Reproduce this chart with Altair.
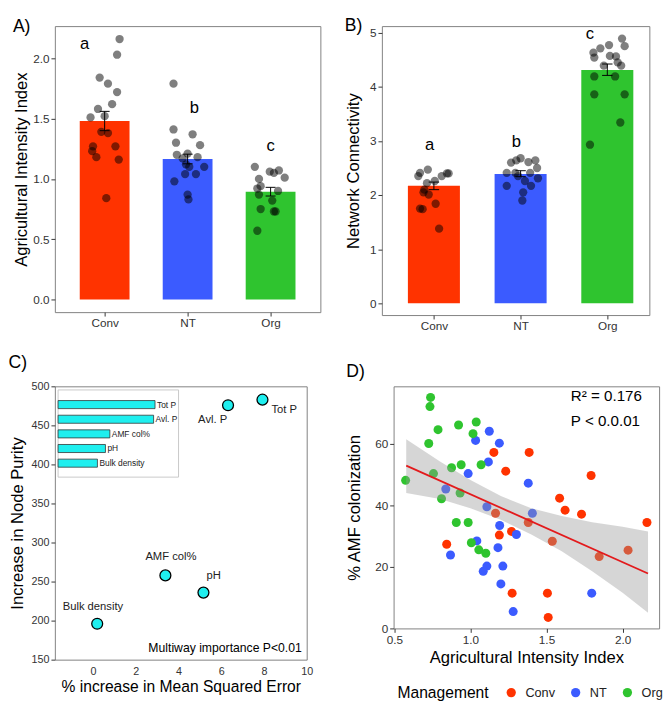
import altair as alt
import pandas as pd

FONT = "Liberation Sans"

CATS = ["Conv", "NT", "Org"]
CAT_POS = [1, 2, 3]
CAT_COLORS = ["#FF3300", "#3B5BFF", "#2FC42F"]

# ---------------- Panel A : Agricultural Intensity Index ----------------
A_MEAN = [1.48, 1.165, 0.893]
A_SE_LO = [1.40, 1.125, 0.858]
A_SE_HI = [1.56, 1.205, 0.930]
A_LETTERS = ["a", "b", "c"]
A_LETTER_X = [0.76, 2.08, 3.00]
A_LETTER_Y = [2.12, 1.59, 1.27]
A_CONV_X = [1.18, 1.15, 0.94, 1.04, 1.15, 1.09, 0.92, 0.83, 1.00, 0.96, 1.04, 0.86, 1.13, 0.85, 0.90, 1.17, 1.02]
A_CONV_Y = [2.16, 2.03, 1.84, 1.79, 1.72, 1.62, 1.58, 1.51, 1.52, 1.39, 1.38, 1.27, 1.27, 1.23, 1.18, 1.16, 0.84]
A_NT_X = [1.83, 1.83, 2.06, 1.86, 2.15, 2.00, 1.87, 2.12, 1.94, 1.98, 2.20, 2.02, 1.97, 2.10, 1.84, 2.00, 2.01]
A_NT_Y = [1.79, 1.41, 1.37, 1.30, 1.28, 1.21, 1.20, 1.18, 1.17, 1.12, 1.10, 1.10, 1.04, 1.04, 0.98, 0.87, 0.83]
A_ORG_X = [2.81, 2.99, 3.10, 3.17, 2.86, 3.04, 2.88, 2.84, 3.09, 2.86, 3.02, 2.88, 3.04, 3.06, 2.84]
A_ORG_Y = [1.10, 1.06, 1.07, 1.01, 1.00, 1.05, 0.94, 0.92, 0.90, 0.87, 0.82, 0.75, 0.73, 0.73, 0.57]

# ---------------- Panel B : Network Connectivity ----------------
B_MEAN = [2.17, 2.39, 4.31]
B_SE_LO = [2.10, 2.34, 4.21]
B_SE_HI = [2.24, 2.45, 4.42]
B_LETTERS = ["a", "b", "c"]
B_LETTER_X = [0.95, 1.95, 2.80]
B_LETTER_Y = [2.93, 2.98, 4.97]
B_CONV_X = [0.82, 0.93, 0.84, 1.09, 1.15, 1.17, 0.92, 1.01, 0.88, 0.94, 0.89, 1.02, 0.84, 0.87, 1.06]
B_CONV_Y = [2.35, 2.47, 2.41, 2.35, 2.40, 2.40, 2.22, 2.26, 2.05, 2.01, 2.10, 1.84, 1.75, 1.74, 1.38]
B_NT_X = [2.00, 1.89, 2.17, 2.09, 1.95, 2.19, 1.84, 1.94, 2.11, 1.97, 2.20, 1.84, 2.05, 2.12, 2.03, 2.02]
B_NT_Y = [2.68, 2.60, 2.64, 2.61, 2.64, 2.50, 2.41, 2.41, 2.41, 2.35, 2.31, 2.17, 2.26, 2.17, 2.05, 1.90]
B_ORG_X = [3.17, 3.20, 2.92, 3.02, 2.84, 3.03, 3.10, 2.85, 3.12, 2.96, 3.16, 2.85, 3.09, 2.85, 3.20, 3.15, 2.80]
B_ORG_Y = [4.89, 4.75, 4.71, 4.77, 4.63, 4.57, 4.56, 4.54, 4.45, 4.39, 4.39, 4.19, 4.19, 3.86, 3.86, 3.34, 2.93]

# ---------------- Panel C : random forest importance ----------------
C_VARS = ["Tot P", "Avl. P", "AMF col%", "pH", "Bulk density"]
C_MSE = [7.93, 6.32, 3.39, 5.17, 0.20]
C_PURITY = [482.9, 475.8, 257.9, 235.9, 196.0]
C_LABEL_X = [8.95, 5.60, 3.65, 5.65, 0.00]
C_LABEL_Y = [470, 457, 281, 257, 217]
C_NOTE = "Multiway importance P<0.01"
C_NOTE_X = [9.77]
C_NOTE_Y = [165.4]

# ---------------- Panel D : AMF colonization vs intensity ----------------
D_CONV_X = [1.154, 1.386, 1.232, 1.793, 1.586, 1.622, 1.730, 1.165, 1.380, 2.160, 1.270, 1.190, 1.538, 0.844, 2.036, 1.846, 1.274, 1.506, 1.511]
D_CONV_Y = [57.2, 57.2, 51.1, 49.7, 42.3, 38.4, 37.1, 37.4, 34.4, 34.4, 31.5, 30.3, 28.3, 27.3, 25.4, 23.3, 11.4, 11.4, 3.5]
D_NT_X = [1.124, 1.190, 1.034, 1.118, 0.985, 1.380, 0.838, 1.108, 1.407, 1.192, 1.302, 1.042, 1.181, 0.869, 1.108, 1.213, 1.084, 1.200, 1.281, 1.797]
D_NT_Y = [64.1, 60.2, 61.1, 54.1, 50.3, 47.2, 45.3, 39.5, 37.4, 33.4, 30.5, 28.4, 26.2, 23.8, 20.2, 20.2, 18.5, 14.4, 5.4, 11.4]
D_ORG_X = [0.738, 0.734, 0.787, 0.726, 0.922, 1.038, 1.017, 0.876, 0.939, 1.070, 0.757, 0.574, 0.932, 0.810, 0.907, 0.985, 1.006, 1.055, 1.101]
D_ORG_Y = [75.1, 72.1, 64.6, 60.1, 66.1, 67.1, 63.3, 52.2, 53.2, 53.2, 50.3, 48.1, 44.0, 42.1, 34.4, 34.4, 27.8, 25.5, 24.4]
D_FIT_X = [0.578, 2.167]
D_FIT_Y = [52.9, 17.8]
D_BAND_X = [0.578, 0.8, 1.0, 1.2, 1.4, 1.6, 1.8, 2.0, 2.167]
D_BAND_HI = [61.5, 54.2, 48.2, 43.0, 39.0, 36.5, 34.5, 33.0, 31.5]
D_BAND_LO = [44.0, 42.0, 39.0, 35.3, 30.5, 25.0, 18.5, 11.5, 5.0]
D_STATS = ["R\u00b2 = 0.176", "P < 0.0.01"]
D_STATS_X = [1.66, 1.66]
D_STATS_Y = [75.6, 67.5]

PANEL_TITLE = dict(anchor="start", frame="bounds", fontSize=18, fontWeight="normal", font=FONT, color="black")

color_scale = alt.Scale(domain=CATS, range=CAT_COLORS)


def pts_frame(xs_list, ys_list):
    rows = []
    for cat, xs, ys in zip(CATS, xs_list, ys_list):
        for x, y in zip(xs, ys):
            rows.append({"cat": cat, "x": x, "y": y})
    return pd.DataFrame(rows)


def bar_panel(mean, lo, hi, letters, lx, ly, pts, xdom, ydom, yvals, yfmt, ytitle, title_x, w, h, title):
    df = pd.DataFrame({"cat": CATS, "pos": CAT_POS, "mean": mean, "lo": lo, "hi": hi, "fill": CAT_COLORS})
    dlet = pd.DataFrame({"t": letters, "x": lx, "y": ly})
    xs = alt.Scale(domain=xdom, nice=False, zero=False)
    ys = alt.Scale(domain=ydom, nice=False, zero=False)
    xax = alt.Axis(values=CAT_POS, title=None, grid=False, labelOverlap=False,
                   labelExpr="datum.value == 1 ? 'Conv' : datum.value == 2 ? 'NT' : 'Org'")
    yax = alt.Axis(values=yvals, format=yfmt, title=ytitle, grid=False, titleX=title_x, labelOverlap=False,
                   titleBaseline="middle", titleAngle=270)
    bars = alt.Chart(df).transform_calculate(
        x1="datum.pos - 0.3", x2="datum.pos + 0.3", zero="0"
    ).mark_rect().encode(
        x=alt.X("x1:Q", scale=xs, axis=xax), x2="x2:Q",
        y=alt.Y("mean:Q", scale=ys, axis=yax), y2="zero:Q",
        fill=alt.Fill("fill:N", scale=None),
    )
    pts_l = alt.Chart(pts).mark_circle(size=72, color="black", opacity=0.5).encode(
        x=alt.X("x:Q", scale=xs), y=alt.Y("y:Q", scale=ys))
    err = alt.Chart(df).mark_rule(color="black", strokeWidth=1).encode(
        x=alt.X("pos:Q", scale=xs), y=alt.Y("lo:Q", scale=ys), y2="hi:Q")
    caps_lo = alt.Chart(df).transform_calculate(c1="datum.pos - 0.06", c2="datum.pos + 0.06").mark_rule(
        color="black", strokeWidth=1).encode(x=alt.X("c1:Q", scale=xs), x2="c2:Q", y=alt.Y("lo:Q", scale=ys))
    caps_hi = alt.Chart(df).transform_calculate(c1="datum.pos - 0.06", c2="datum.pos + 0.06").mark_rule(
        color="black", strokeWidth=1).encode(x=alt.X("c1:Q", scale=xs), x2="c2:Q", y=alt.Y("hi:Q", scale=ys))
    let = alt.Chart(dlet).mark_text(fontSize=17, baseline="middle", color="black", font=FONT).encode(
        x=alt.X("x:Q", scale=xs), y=alt.Y("y:Q", scale=ys), text="t:N")
    return alt.layer(bars, pts_l, err, caps_lo, caps_hi, let).properties(
        width=w, height=h, title=alt.TitleParams(text=title, offset=-10, **PANEL_TITLE))


A = bar_panel(A_MEAN, A_SE_LO, A_SE_HI, A_LETTERS, A_LETTER_X, A_LETTER_Y,
              pts_frame([A_CONV_X, A_NT_X, A_ORG_X], [A_CONV_Y, A_NT_Y, A_ORG_Y]),
              [0.4, 3.6], [-0.105, 2.267], [0, 0.5, 1.0, 1.5, 2.0], ".1f",
              "Agricultural Intensity Index", -34, 272, 293, "A)")
B = bar_panel(B_MEAN, B_SE_LO, B_SE_HI, B_LETTERS, B_LETTER_X, B_LETTER_Y,
              pts_frame([B_CONV_X, B_NT_X, B_ORG_X], [B_CONV_Y, B_NT_Y, B_ORG_Y]),
              [0.4, 3.485], [-0.216, 5.12], [0, 1, 2, 3, 4, 5], "d",
              "Network Connectivity", -29, 274, 296, "B)")

# ---------------- Panel C ----------------
dc = pd.DataFrame({"var": C_VARS, "mse": C_MSE, "purity": C_PURITY, "lx": C_LABEL_X, "ly": C_LABEL_Y})
dnote = pd.DataFrame({"t": [C_NOTE], "x": C_NOTE_X, "y": C_NOTE_Y})
cxs = alt.Scale(domain=[-1.78, 10], nice=False, zero=False)
cys = alt.Scale(domain=[150, 500], nice=False, zero=False)
c_xax = alt.Axis(values=[0, 2, 4, 6, 8, 10], orient="bottom", ticks=False, labelPadding=6,
                 labelFontSize=11, labelOverlap=False, labelFlush=False,
                 titleFontSize=16, titlePadding=3, grid=False)
c_yax = alt.Axis(values=[150, 200, 250, 300, 350, 400, 450, 500], orient="left", labelFontSize=11,
                 labelOverlap=False, labelFlush=False,
                 titleX=-38.5, titleBaseline="middle", titleAngle=270, grid=False)
C_XT = "% increase in Mean Squared Error"
C_YT = "Increase in Node Purity"
c_pts = alt.Chart(dc).mark_point(filled=True, shape="circle", size=125, fill="#1FEFEF",
                                 stroke="black", strokeWidth=1.3, opacity=1).encode(
    x=alt.X("mse:Q", scale=cxs, title=C_XT, axis=c_xax),
    y=alt.Y("purity:Q", scale=cys, title=C_YT, axis=c_yax),
)
c_lab = alt.Chart(dc).mark_text(fontSize=11.5, color="#222222", font=FONT, baseline="middle").encode(
    x=alt.X("lx:Q", scale=cxs, title=C_XT, axis=c_xax), y=alt.Y("ly:Q", scale=cys, title=C_YT, axis=c_yax),
    text="var:N")
c_note = alt.Chart(dnote).mark_text(fontSize=12.5, color="black", font=FONT, align="right", baseline="middle").encode(
    x=alt.X("x:Q", scale=cxs, title=C_XT, axis=c_xax), y=alt.Y("y:Q", scale=cys, title=C_YT, axis=c_yax),
    text="t:N")
c_main = alt.layer(c_pts, c_lab, c_note)

ix = alt.Scale(domain=[0, 600], range=[3.3, 126.7], nice=False, zero=True)
iy = alt.Scale(domain=C_VARS, range=[11.2, 86.2], paddingInner=0.45, paddingOuter=0.225)
inset_frame = alt.Chart(alt.Data(values=[{"k": 1}])).mark_rect(
    fill="white", stroke="#C8C8C8", strokeWidth=1).encode(
    x=alt.value(3.3), x2=alt.value(126.7), y=alt.value(3.7), y2=alt.value(93))
inset_bars = alt.Chart(dc).mark_bar(color="#1FEFEF", stroke="#333333", strokeWidth=0.8).encode(
    x=alt.X("purity:Q", scale=ix, axis=None), y=alt.Y("var:N", scale=iy, axis=None, sort=C_VARS))
inset_text = alt.Chart(dc).mark_text(fontSize=8.6, align="left", dx=2, baseline="middle", color="#222222",
                                     font=FONT).encode(
    x=alt.X("purity:Q", scale=ix, axis=None), y=alt.Y("var:N", scale=iy, axis=None, sort=C_VARS), text="var:N")
c_inset = alt.layer(inset_frame, inset_bars, inset_text)

C = alt.layer(c_main, c_inset).resolve_scale(x="independent", y="independent").properties(
    width=258, height=280, title=alt.TitleParams(text="C)", offset=9, **PANEL_TITLE))

# ---------------- Panel D ----------------
dd = pts_frame([D_CONV_X, D_NT_X, D_ORG_X], [D_CONV_Y, D_NT_Y, D_ORG_Y])
dband = pd.DataFrame({"x": D_BAND_X, "hi": D_BAND_HI, "lo": D_BAND_LO})
dfit = pd.DataFrame({"x": D_FIT_X, "y": D_FIT_Y})
dstats = pd.DataFrame({"t": D_STATS, "x": D_STATS_X, "y": D_STATS_Y})
dxs = alt.Scale(domain=[0.495, 2.24], nice=False, zero=False)
dys = alt.Scale(domain=[-0.08, 78.7], nice=False, zero=False)
d_pts = alt.Chart(dd).mark_circle(size=85, opacity=1).encode(
    x=alt.X("x:Q", scale=dxs, title="Agricultural Intensity Index",
            axis=alt.Axis(values=[0.5, 1.0, 1.5, 2.0], format=".1f", titlePadding=5, grid=False,
                          labelOverlap=False, labelFlush=False)),
    y=alt.Y("y:Q", scale=dys, title="% AMF colonization",
            axis=alt.Axis(values=[0, 20, 40, 60], titleX=-39.5, titleBaseline="middle", titleAngle=270,
                          grid=False, labelOverlap=False, labelFlush=False)),
    color=alt.Color("cat:N", scale=color_scale, title="Management",
                    legend=alt.Legend(orient="none", legendX=4, legendY=307, direction="horizontal",
                                      titleOrient="left", titleFontSize=16, titleFontWeight="normal",
                                      titleColor="black", titleFont=FONT, labelFont=FONT,
                                      labelFontSize=13, labelColor="#222222", symbolType="circle",
                                      symbolSize=90, symbolStrokeWidth=0, labelOffset=8,
                                      columnPadding=14, titlePadding=16, titleBaseline="middle")),
)
d_band = alt.Chart(dband).mark_area(color="#999999", opacity=0.4).encode(
    x=alt.X("x:Q", scale=dxs), y=alt.Y("hi:Q", scale=dys), y2="lo:Q")
d_fit = alt.Chart(dfit).mark_line(color="#E31A1C", strokeWidth=1.8).encode(
    x=alt.X("x:Q", scale=dxs), y=alt.Y("y:Q", scale=dys))
d_txt = alt.Chart(dstats).mark_text(fontSize=15.5, align="left", baseline="middle", color="black",
                                    font=FONT).encode(
    x=alt.X("x:Q", scale=dxs), y=alt.Y("y:Q", scale=dys), text="t:N")
D = alt.layer(d_pts, d_band, d_fit, d_txt).properties(
    width=272, height=248, title=alt.TitleParams(text="D)", offset=6, **PANEL_TITLE))

row1 = alt.hconcat(A, B, spacing=23)
row2 = alt.hconcat(C, D, spacing=33).resolve_scale(color="independent").resolve_legend(color="independent")
chart = alt.vconcat(row1, row2, spacing=21).resolve_scale(color="independent").resolve_legend(
    color="independent").properties(padding=0).configure(
    font=FONT
).configure_view(
    stroke="#808080", strokeWidth=1
).configure_axis(
    grid=False, domain=False, tickColor="#333333", tickSize=4, labelColor="#333333", labelFontSize=12,
    labelFont=FONT, titleFont=FONT, titleFontSize=17, titleFontWeight="normal", titleColor="black",
    labelPadding=2, labelOverlap=False, labelFlush=False
)

chart.save("out.html", embed_options={"renderer": "svg", "actions": False})
